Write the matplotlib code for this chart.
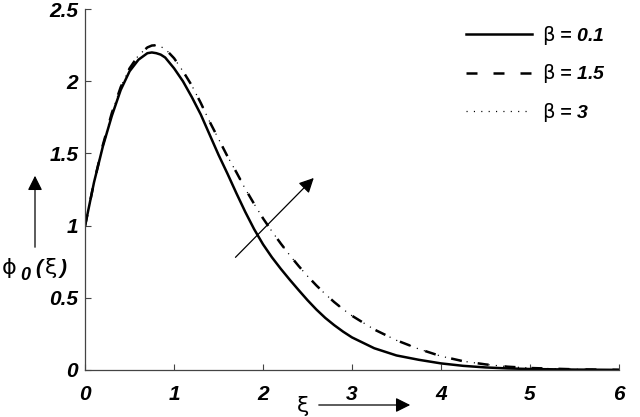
import matplotlib
matplotlib.use('Agg')
import matplotlib.pyplot as plt
from matplotlib.font_manager import FontProperties

plt.rcParams['mathtext.default'] = 'rm'

# values
xi = [0, 0.1, 0.2, 0.3, 0.4, 0.5, 0.6, 0.7, 0.75, 0.8, 0.85, 0.9, 1.0, 1.1,
      1.2, 1.3, 1.4, 1.5, 1.6, 1.7, 1.8, 1.9, 2.0, 2.1, 2.2, 2.3, 2.4, 2.5,
      2.6, 2.7, 2.8, 2.9, 3.0, 3.25, 3.5, 3.75, 4.0, 4.25, 4.5, 4.75, 5.0,
      5.5, 6.0]
phi_b01 = [1.00, 1.30, 1.55, 1.76, 1.94, 2.07, 2.15, 2.195, 2.20, 2.195,
           2.185, 2.165, 2.09, 2.00, 1.89, 1.77, 1.63, 1.49, 1.36, 1.225, 1.095,
           0.975, 0.87, 0.78, 0.70, 0.625, 0.553, 0.483, 0.418, 0.36, 0.31,
           0.265, 0.225, 0.15, 0.10, 0.07, 0.045, 0.028, 0.017, 0.010, 0.006,
           0.002, 0.0]
phi_b15 = [1.00, 1.30, 1.56, 1.78, 1.96, 2.09, 2.18, 2.235, 2.248, 2.25,
           2.24, 2.225, 2.16, 2.07, 1.97, 1.85, 1.72, 1.60, 1.48, 1.37, 1.255,
           1.15, 1.05, 0.96, 0.875, 0.795, 0.72, 0.65, 0.585, 0.525, 0.47,
           0.42, 0.375, 0.28, 0.205, 0.145, 0.095, 0.06, 0.038, 0.022, 0.013,
           0.004, 0.0]
phi_b3 = [1.00, 1.30, 1.56, 1.78, 1.96, 2.09, 2.18, 2.235, 2.248, 2.25,
          2.24, 2.225, 2.16, 2.07, 1.97, 1.85, 1.72, 1.60, 1.48, 1.37, 1.255,
          1.15, 1.05, 0.96, 0.875, 0.795, 0.72, 0.65, 0.585, 0.525, 0.47,
          0.42, 0.375, 0.28, 0.205, 0.145, 0.095, 0.06, 0.038, 0.022, 0.013,
          0.004, 0.0]
etiquetas = [r'$\beta$ = 0.1', r'$\beta$ = 1.5', r'$\beta$ = 3']
xticks = [0, 1, 2, 3, 4, 5, 6]
yticks = [0, 0.5, 1, 1.5, 2, 2.5]
ytick_labels = ['0', '0.5', '1', '1.5', '2', '2.5']

fuente = FontProperties(family='Liberation Sans', weight='bold', style='italic', size=15)
fuente_leg = FontProperties(family='Liberation Sans', weight='bold', style='italic', size=14)

fig = plt.figure(figsize=(6.4, 4.17), dpi=100)
ax = fig.add_axes([0.133, 0.113, 0.834, 0.865])

ax.plot(xi, phi_b01, color='black', lw=1.8, label=etiquetas[0])
ax.plot(xi, phi_b15, color='black', lw=1.8, dashes=(4.4, 6.4), label=etiquetas[1])
ax.plot(xi, phi_b3, color='black', lw=0.9, dashes=(0.9, 5.0), label=etiquetas[2])

ax.set_xlim(0, 6)
ax.set_ylim(0, 2.5)
ax.set_xticks(xticks)
ax.set_yticks(yticks)
ax.set_xticklabels([str(t) for t in xticks])
ax.set_yticklabels(ytick_labels)
for lab in ax.get_xticklabels() + ax.get_yticklabels():
    lab.set_fontproperties(fuente)
ax.tick_params(direction='in', length=4, width=0.8, color='#444444')
ax.tick_params(axis='x', pad=11)
ax.tick_params(axis='y', pad=5)
ax.spines['top'].set_visible(False)
ax.spines['right'].set_visible(False)
for s in ['left', 'bottom']:
    ax.spines[s].set_color('#444444')
    ax.spines[s].set_linewidth(0.9)

leg = ax.legend(loc='upper left', bbox_to_anchor=(0.728, 0.942),
                bbox_transform=fig.transFigure, frameon=False, prop=fuente_leg,
                handlelength=3.4, handletextpad=0.5, labelspacing=0.78,
                borderpad=0, borderaxespad=0)

# flecha que indica el aumento de beta
ax.annotate('', xy=(2.57, 1.33), xytext=(1.69, 0.78),
            arrowprops=dict(arrowstyle='-|>', color='black', lw=0.9,
                            mutation_scale=22, shrinkA=0, shrinkB=0))

# etiqueta del eje y con su flecha
yl = 1 - 268 / 417
fig.text(2 / 640, yl, 'ϕ', fontsize=16, family='DejaVu Sans', va='center')
fig.text(20 / 640, 1 - 276 / 417, '0', fontproperties=FontProperties(
    family='Liberation Sans', weight='bold', style='italic', size=13), va='center')
fig.text(35 / 640, yl, '(', fontproperties=fuente, va='center')
fig.text(45 / 640, yl, 'ξ', fontsize=16, family='DejaVu Sans', va='center')
fig.text(60 / 640, yl, ')', fontproperties=fuente, va='center')
fig.add_artist(matplotlib.patches.FancyArrowPatch(
    (35 / 640, 1 - 250 / 417), (35 / 640, 1 - 173 / 417), transform=fig.transFigure,
    arrowstyle='-|>', mutation_scale=22, color='black', lw=0.9))

# etiqueta del eje x con su flecha
fig.text(303 / 640, 1 - 406 / 417, 'ξ', fontsize=16, family='DejaVu Sans',
         ha='center', va='center')
fig.add_artist(matplotlib.patches.FancyArrowPatch(
    (316 / 640, 1 - 405 / 417), (413 / 640, 1 - 405 / 417), transform=fig.transFigure,
    arrowstyle='-|>', mutation_scale=22, color='black', lw=0.9))

fig.savefig('out.png', dpi=100)
